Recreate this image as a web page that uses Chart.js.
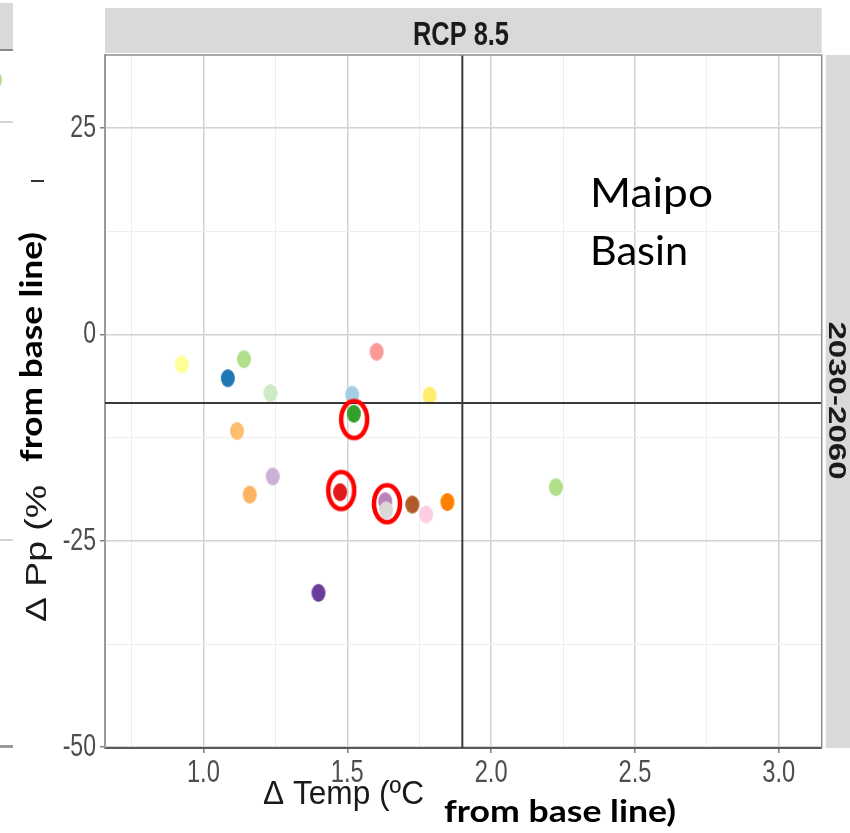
<!DOCTYPE html>
<html>
<head>
<meta charset="utf-8">
<script src="https://cdn.jsdelivr.net/npm/chart.js@4.4.1/dist/chart.umd.min.js"></script>
<style>
  html, body { margin: 0; padding: 0; background: #ffffff; }
  #wrap { width: 850px; height: 833px; }
</style>
</head>
<body>
<div id="wrap"><canvas id="c" width="850" height="833"></canvas></div>
<script>
// ---- Data ----
const panelTitle = "RCP 8.5";
const periodLabel = "2030-2060";
const basinLabel = ["Maipo", "Basin"];

// one point per climate model: change in temperature (°C) and precipitation (%)
const pointColors = ["#ffff99", "#b2df8a", "#1f78b4", "#ccebc5", "#a6cee3", "#fb9a99", "#ffed6f",
                     "#33a02c", "#fdbf6f", "#cab2d6", "#fdb462", "#e31a1c", "#bc80bd", "#d9d9d9",
                     "#b15928", "#fccde5", "#ff7f00", "#b2df8a", "#6a3d9a"];
const tempChange = [0.925, 1.141, 1.085, 1.233, 1.517, 1.602, 1.786,
                    1.523, 1.117, 1.241, 1.161, 1.475, 1.632, 1.635,
                    1.726, 1.774, 1.848, 2.225, 1.400];
const ppChange   = [-3.6, -3.0, -5.3, -7.1, -7.3, -2.1, -7.4,
                    -9.6, -11.7, -17.2, -19.4, -19.1, -20.2, -21.3,
                    -20.6, -21.8, -20.3, -18.5, -31.3];

// highlighted (circled) models
const ringTemp = [1.524, 1.479, 1.638];
const ringPp   = [-10.3, -18.9, -20.5];

// reference (mean) lines
const meanTemp = 1.90;
const meanPp = -8.3;

// axes
const xMin = 0.658, xMax = 3.149;
const yMin = -50.1, yMax = 33.86;
const xMajorTicks = [1.0, 1.5, 2.0, 2.5, 3.0];
const xMinorTicks = [0.75, 1.25, 1.75, 2.25, 2.75];
const yMajorTicks = [-50, -25, 0, 25];
const yMinorTicks = [-37.5, -12.5, 12.5];

// ---- point sprites ----
function ellipseSprite(color) {
  const c = document.createElement('canvas');
  c.width = 16; c.height = 20;
  const g = c.getContext('2d');
  g.fillStyle = color;
  g.beginPath();
  g.ellipse(8, 10, 7, 9, 0, 0, Math.PI * 2);
  g.fill();
  return c;
}
function ringSprite() {
  const c = document.createElement('canvas');
  c.width = 36; c.height = 48;
  const g = c.getContext('2d');
  g.strokeStyle = "#ff0000";
  g.lineWidth = 4.5;
  g.beginPath();
  g.ellipse(18, 24, 13, 18.5, 0, 0, Math.PI * 2);
  g.stroke();
  return c;
}

const pts = tempChange.map((t, i) => ({x: t, y: ppChange[i]}));
const ringPts = ringTemp.map((t, i) => ({x: t, y: ringPp[i]}));
const sprites = pointColors.map(ellipseSprite);
const ring = ringSprite();

const isMajor = (arr, v) => arr.some(a => Math.abs(a - v) < 1e-6);

// ---- text helper ----
function fitText(ctx, text, font, color, x, y, width, rot) {
  ctx.save();
  ctx.font = font;
  ctx.fillStyle = color;
  ctx.textAlign = 'left';
  ctx.textBaseline = 'alphabetic';
  ctx.translate(x, y);
  if (rot) ctx.rotate(rot);
  const w = ctx.measureText(text).width;
  ctx.scale(width / w, 1);
  ctx.fillText(text, 0, 0);
  ctx.restore();
}

// tick labels in the reference are a condensed grotesque: squeeze them horizontally
function condenseLabels(scale, factor) {
  if (scale._condensed) return;
  const orig = scale.drawLabels;
  scale.drawLabels = function (area) {
    const ctx = this.ctx;
    const ft = ctx.fillText;
    ctx.fillText = function (t, x, y) {
      return ft.call(this, t, x, y, this.measureText(t).width * factor);
    };
    try { orig.call(this, area); } finally { ctx.fillText = ft; }
  };
  scale._condensed = true;
}

const decor = {
  id: 'decor',
  beforeDraw(chart) {
    condenseLabels(chart.scales.x, 0.74);
    condenseLabels(chart.scales.y, 0.72);
    const ctx = chart.ctx;
    const a = chart.chartArea;
    ctx.save();
    ctx.fillStyle = '#ffffff';
    ctx.fillRect(0, 0, chart.width, chart.height);
    // strips
    ctx.fillStyle = '#d9d9d9';
    ctx.fillRect(a.left, 8, a.right - a.left, a.top - 10);
    ctx.fillRect(a.right + 4, a.top, chart.width - a.right - 4, a.bottom - a.top);
    // fragments of the neighbouring panel at the far left
    ctx.fillRect(0, 3, 13, 46);
    ctx.fillStyle = '#8a8a8a';
    ctx.fillRect(0, 49, 13, 2);
    ctx.fillStyle = '#d4d4d4';
    ctx.fillRect(0, 121, 13, 2);
    ctx.fillRect(0, 539, 13, 2);
    ctx.fillStyle = '#9a9a9a';
    ctx.fillRect(0, 745, 13, 3);
    ctx.fillStyle = '#b2df8a';
    ctx.beginPath(); ctx.ellipse(-5, 80, 7, 9, 0, 0, Math.PI * 2); ctx.fill();
    ctx.fillStyle = '#333333';
    ctx.fillRect(31, 180, 13, 2);
    ctx.restore();
  },
  afterDatasetsDraw(chart) {
    const ctx = chart.ctx;
    const a = chart.chartArea;
    ctx.save();
    ctx.strokeStyle = '#8c8c8c';
    ctx.lineWidth = 1.5;
    ctx.beginPath();
    ctx.moveTo(a.left, a.top); ctx.lineTo(a.right, a.top); ctx.lineTo(a.right, a.bottom);
    ctx.stroke();
    ctx.restore();
  },
  afterDraw(chart) {
    const ctx = chart.ctx;
    fitText(ctx, panelTitle, "bold 33px 'Liberation Sans', Arial, sans-serif", '#1a1a1a', 413, 45, 96, 0);
    fitText(ctx, periodLabel, "bold 24px 'Liberation Sans', Arial, sans-serif", '#1a1a1a', 828.5, 321.5, 158, Math.PI / 2);
    fitText(ctx, basinLabel[0], "40px Lato, 'Open Sans', sans-serif", '#000000', 590, 207, 123, 0);
    fitText(ctx, basinLabel[1], "40px Lato, 'Open Sans', sans-serif", '#000000', 590, 265, 98, 0);
    // axis titles
    fitText(ctx, "\u0394 Temp (\u00baC", "34px 'Liberation Sans', Arial, sans-serif", '#1a1a1a', 263, 804, 161, 0);
    fitText(ctx, "from base line)", "bold 31px Lato, 'Open Sans', sans-serif", '#000000', 444, 822, 232, 0);
    fitText(ctx, "\u0394 Pp (%", "30px 'Liberation Sans', Arial, sans-serif", '#1a1a1a', 46, 622, 137, -Math.PI / 2);
    fitText(ctx, "from base line)", "bold 31px Lato, 'Open Sans', sans-serif", '#000000', 42, 462, 230, -Math.PI / 2);
  }
};

const tickFont = { family: "'Liberation Sans', Arial, sans-serif", size: 32 };

new Chart(document.getElementById('c'), {
  type: 'scatter',
  data: {
    datasets: [
      {
        label: 'highlighted',
        data: ringPts,
        pointStyle: ring,
        pointRadius: 16,
        order: 0
      },
      {
        label: 'mean lines',
        data: [{x: meanTemp, y: yMin}, {x: meanTemp, y: yMax}, {x: null, y: null}, {x: xMin, y: meanPp}, {x: xMax, y: meanPp}],
        showLine: true,
        spanGaps: false,
        borderColor: '#3a3a3a',
        borderWidth: 2,
        pointRadius: 0,
        order: 1
      },
      {
        label: 'models',
        data: pts,
        pointStyle: sprites,
        pointRadius: 8,
        order: 2
      }
    ]
  },
  options: {
    responsive: false,
    animation: false,
    devicePixelRatio: 1,
    events: [],
    layout: { padding: { top: 55, right: 28.3, left: 0, bottom: 0 } },
    plugins: { legend: { display: false }, tooltip: { enabled: false } },
    scales: {
      x: {
        type: 'linear',
        min: xMin, max: xMax,
        afterBuildTicks(scale) {
          scale.ticks = xMinorTicks.concat(xMajorTicks).sort((p, q) => p - q).map(v => ({value: v}));
        },
        afterFit(scale) { scale.height = 85; },
        ticks: {
          autoSkip: false,
          maxRotation: 0,
          color: '#4d4d4d',
          font: tickFont,
          padding: 1,
          callback: (v) => isMajor(xMajorTicks, v) ? v.toFixed(1) : ''
        },
        grid: {
          drawOnChartArea: true,
          color: (c) => isMajor(xMajorTicks, c.tick.value) ? '#d2d2d2' : '#eeeeee',
          lineWidth: (c) => isMajor(xMajorTicks, c.tick.value) ? 1.5 : 1,
          tickColor: (c) => isMajor(xMajorTicks, c.tick.value) ? '#7f7f7f' : 'rgba(0,0,0,0)',
          tickLength: 5
        },
        border: { color: '#5a5a5a', width: 2 }
      },
      y: {
        type: 'linear',
        min: yMin, max: yMax,
        afterBuildTicks(scale) {
          scale.ticks = yMinorTicks.concat(yMajorTicks).sort((p, q) => p - q).map(v => ({value: v}));
        },
        afterFit(scale) { scale.width = 105; },
        ticks: {
          autoSkip: false,
          color: '#4d4d4d',
          font: tickFont,
          padding: 4,
          callback: (v) => isMajor(yMajorTicks, v) ? String(v) : ''
        },
        grid: {
          color: (c) => isMajor(yMajorTicks, c.tick.value) ? '#d2d2d2' : '#eeeeee',
          lineWidth: (c) => isMajor(yMajorTicks, c.tick.value) ? 1.5 : 1,
          tickColor: (c) => isMajor(yMajorTicks, c.tick.value) ? '#7f7f7f' : 'rgba(0,0,0,0)',
          tickLength: 5
        },
        border: { color: '#9a9a9a', width: 2 }
      }
    }
  },
  plugins: [decor]
});
</script>
</body>
</html>
